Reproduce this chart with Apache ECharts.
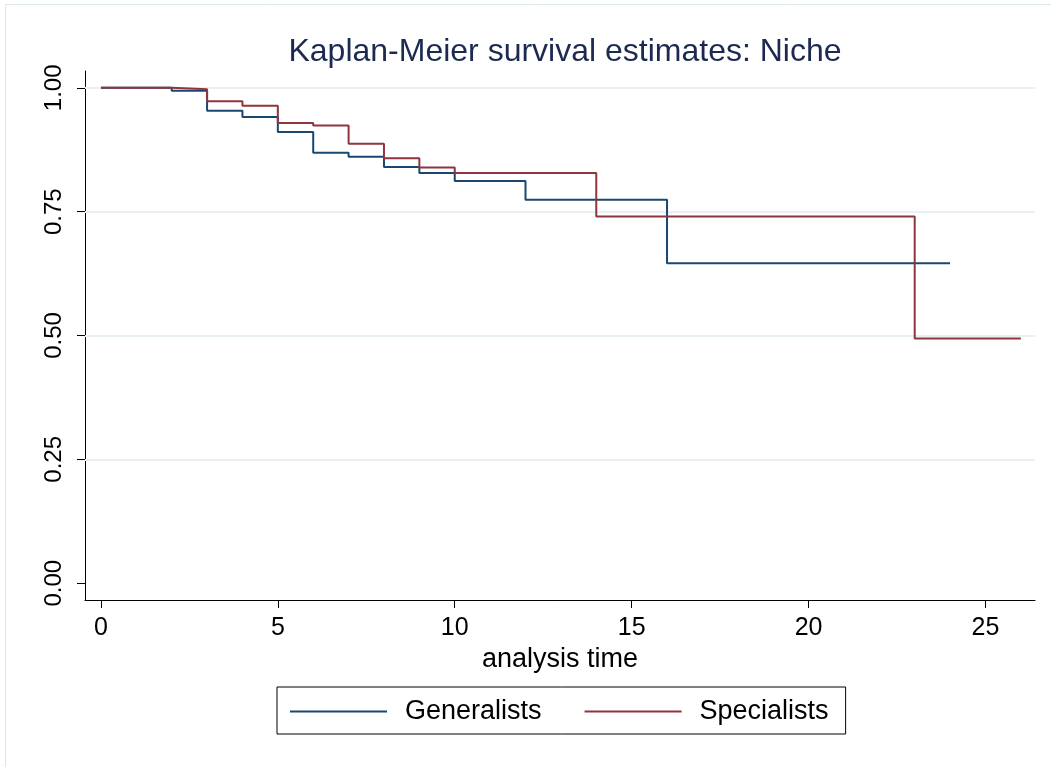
<!DOCTYPE html>
<html>
<head>
<meta charset="utf-8">
<script src="https://cdn.jsdelivr.net/npm/echarts@6/dist/echarts.min.js"></script>
<style>
html,body{margin:0;padding:0;background:#fff;}
#chart{width:1051px;height:767px;}
</style>
</head>
<body>
<div id="chart"></div>
<script>
// Data
const genTimes = [0, 2, 3, 4, 5, 6, 7, 8, 9, 10, 12, 16, 24];
const genSurv  = [1.000, 0.994, 0.954, 0.941, 0.911, 0.869, 0.861, 0.840, 0.828, 0.812, 0.774, 0.646, 0.646];
const spcTimes = [0, 2, 3, 4, 5, 6, 7, 8, 9, 10, 14, 23, 26];
const spcSurv  = [1.000, 0.997, 0.973, 0.964, 0.929, 0.924, 0.887, 0.858, 0.839, 0.828, 0.740, 0.494, 0.494];
const xTicks = [0, 5, 10, 15, 20, 25];
const yTicks = [0, 0.25, 0.5, 0.75, 1];
const yGrid = [0.25, 0.5, 0.75, 1];
const seriesNames = ['Generalists', 'Specialists'];
const titleText = 'Kaplan-Meier survival estimates: Niche';
const xName = 'analysis time';

const FONT = '"Liberation Sans", Arial, Helvetica, sans-serif';
const BLUE = '#1a476f';
const RED = '#90353b';

const pairs = (t, s) => t.map((v, i) => [v, s[i]]);

const chart = echarts.init(document.getElementById('chart'), null, {renderer: 'canvas'});
chart.setOption({
  animation: false,
  backgroundColor: '#ffffff',
  textStyle: {fontFamily: FONT},
  graphic: [{
    type: 'rect',
    shape: {x: 5.5, y: 4.5, width: 1100, height: 800},
    style: {fill: 'none', stroke: '#dbe8eb', lineWidth: 1},
    silent: true, z: -10
  }],
  title: {
    text: titleText,
    left: 560, top: 31, textAlign: 'center',
    textStyle: {fontFamily: FONT, fontSize: 32, fontWeight: 'normal', color: '#1c2a50'}
  },
  grid: {left: 85, right: 16, top: 71, bottom: 167, containLabel: false},
  xAxis: {
    type: 'value', min: -0.45, max: 26.4,
    name: xName, nameLocation: 'middle', nameGap: 43,
    nameTextStyle: {fontFamily: FONT, fontSize: 27, color: '#000'},
    axisLine: {show: true, onZero: false, lineStyle: {color: '#000', width: 1}},
    axisTick: {show: true, length: 8, customValues: xTicks, lineStyle: {color: '#000'}},
    axisLabel: {customValues: xTicks, margin: 16, fontFamily: FONT, fontSize: 25, color: '#000'},
    splitLine: {show: false}
  },
  yAxis: {
    type: 'value', min: -0.034, max: 1.034,
    axisLine: {show: true, onZero: false, lineStyle: {color: '#000', width: 1}},
    axisTick: {show: true, length: 8, customValues: yTicks, lineStyle: {color: '#000'}},
    axisLabel: {customValues: yTicks, rotate: 90, margin: 19, fontFamily: FONT, fontSize: 24, color: '#000',
      formatter: v => v.toFixed(2)},
    splitLine: {show: false}
  },
  legend: {
    data: seriesNames,
    left: 277, top: 687,
    orient: 'horizontal',
    padding: [11, 17, 9, 13],
    itemGap: 43,
    itemWidth: 97, itemHeight: 2,
    icon: 'rect',
    borderColor: '#000', borderWidth: 1,
    textStyle: {fontFamily: FONT, fontSize: 27, color: '#000', padding: [0, 0, 0, 13]}
  },
  series: [
    {
      type: 'line', name: '_grid', data: [], silent: true, z: 1,
      markLine: {
        silent: true, z: 1, symbol: ['none', 'none'], label: {show: false},
        lineStyle: {color: '#e9f0f3', width: 2, type: 'solid'},
        data: yGrid.map(v => ({yAxis: v}))
      }
    },
    {
      type: 'line', name: seriesNames[0], step: 'end', showSymbol: false, symbol: 'none',
      data: pairs(genTimes, genSurv), z: 6,
      lineStyle: {color: BLUE, width: 2}, itemStyle: {color: BLUE}
    },
    {
      type: 'line', name: seriesNames[1], step: 'end', showSymbol: false, symbol: 'none',
      data: pairs(spcTimes, spcSurv), z: 7,
      lineStyle: {color: RED, width: 2}, itemStyle: {color: RED}
    }
  ]
});
</script>
</body>
</html>
